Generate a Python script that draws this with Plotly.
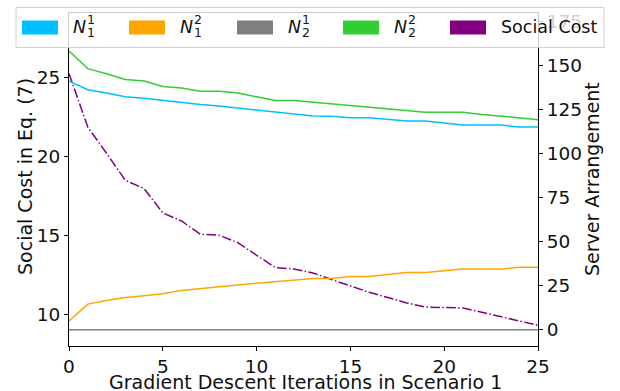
import plotly.graph_objects as go

iterations = list(range(26))
social_cost = [25.25, 21.87, 20.2, 18.49, 17.97, 16.42, 15.91, 15.07, 15.01, 14.54, 13.74,
               12.96, 12.87, 12.62, 12.20, 11.77, 11.39, 11.06, 10.72, 10.46, 10.44, 10.40,
               10.13, 9.85, 9.56, 9.30]
n11 = [141.2, 136.3, 134.4, 132.3, 131.5, 130.2, 129.3, 127.9, 127.0, 125.9, 124.6, 123.6,
       122.6, 121.4, 121.2, 120.4, 120.4, 119.3, 118.5, 118.5, 117.4, 116.2, 116.2, 116.2,
       115.1, 115.1]
n12 = [4.9, 14.5, 16.6, 18.3, 19.3, 20.4, 22.3, 23.5, 24.4, 25.4, 26.3, 27.3, 28.4, 29.1,
       29.1, 30.2, 30.2, 31.4, 32.5, 32.5, 33.5, 34.4, 34.4, 34.4, 35.4, 35.4]
n21 = [0] * 26
n22 = [158.3, 148.3, 145.4, 142.1, 141.2, 138.2, 137.3, 135.4, 135.4, 134.4, 132.3, 130.2,
       130.2, 129.3, 128.3, 127.2, 126.3, 125.4, 124.4, 123.5, 123.5, 123.5, 122.3, 121.4,
       120.2, 119.3]

left_ticks = [10, 15, 20, 25]
right_ticks = [0, 25, 50, 75, 100, 125, 150, 175]
x_ticks = [0, 5, 10, 15, 20, 25]

FONT = "DejaVu Sans"
TICK_SIZE = 18.5
TITLE_SIZE = 19
LEG_SIZE = 17.5
C_BLUE, C_ORANGE, C_GRAY, C_GREEN, C_PURPLE = "#00BFFF", "#FFA500", "#808080", "#32CD32", "#800080"

fig = go.Figure()
fig.add_trace(go.Scatter(x=iterations, y=social_cost, mode="lines", yaxis="y",
                         line=dict(color=C_PURPLE, width=1.5, dash="9.6px,2.4px,1.5px,2.4px"),
                         showlegend=False))
for vals, col in [(n11, C_BLUE), (n12, C_ORANGE), (n21, C_GRAY), (n22, C_GREEN)]:
    fig.add_trace(go.Scatter(x=iterations, y=vals, mode="lines", yaxis="y2",
                             line=dict(color=col, width=1.5), showlegend=False))

axis_common = dict(showgrid=False, zeroline=False, showline=True, linecolor="black", linewidth=1,
                   ticks="outside", ticklen=4, tickwidth=1, tickcolor="black", automargin=False,
                   tickfont=dict(family=FONT, size=TICK_SIZE, color="#111"))

W, H = 620.0, 391.0
pl, pr, pt, pb = 69.0, 538.0, 13.0, 346.0

fig.update_layout(
    width=620, height=391,
    margin=dict(l=int(pl), r=int(W - pr), t=int(pt), b=int(H - pb)),
    paper_bgcolor="white", plot_bgcolor="white",
    font=dict(family=FONT, size=16, color="black"),
    xaxis=dict(range=[0, 25], tickvals=x_ticks, mirror=True, **axis_common),
    yaxis=dict(range=[7.99, 29.09], tickvals=left_ticks, **axis_common),
    yaxis2=dict(range=[-9.3, 179.9], tickvals=right_ticks, overlaying="y", side="right",
                **axis_common),
    showlegend=False,
)

def px_x(x):
    return (x - pl) / (pr - pl)
def px_y(y):
    return (pb - y) / (pb - pt)

annotations = [
    dict(xref="paper", yref="paper", x=px_x(305.5), y=px_y(382), text="Gradient Descent Iterations in Scenario 1",
         showarrow=False, xanchor="center", yanchor="middle",
         font=dict(family=FONT, size=TITLE_SIZE, color="#111")),
    dict(xref="paper", yref="paper", x=px_x(25), y=px_y(177), text="Social Cost in Eq. (7)", textangle=-90,
         showarrow=False, xanchor="center", yanchor="middle",
         font=dict(family=FONT, size=TITLE_SIZE, color="#111")),
    dict(xref="paper", yref="paper", x=px_x(592), y=px_y(179), text="Server Arrangement", textangle=-90,
         showarrow=False, xanchor="center", yanchor="middle",
         font=dict(family=FONT, size=TITLE_SIZE, color="#111")),
]

# legend box (matplotlib-style, semi-transparent)
shapes = [dict(type="rect", xref="paper", yref="paper",
               x0=px_x(16), x1=px_x(604), y0=px_y(47.5), y1=px_y(7.5),
               fillcolor="rgba(255,255,255,0.8)", line=dict(color="#d0d0d0", width=1), layer="above")]
legend_items = [
    (C_BLUE, 22, "1", "1", None),
    (C_ORANGE, 129, "2", "1", None),
    (C_GRAY, 237, "1", "2", None),
    (C_GREEN, 343, "2", "2", None),
    (C_PURPLE, 450, None, None, "Social Cost"),
]
for col, x0, sup, sub, label in legend_items:
    shapes.append(dict(type="rect", xref="paper", yref="paper",
                       x0=px_x(x0), x1=px_x(x0 + 36), y0=px_y(34.5), y1=px_y(20.5),
                       fillcolor=col, line=dict(width=0), layer="above"))
    tx = x0 + 49
    if label:
        annotations.append(dict(xref="paper", yref="paper", x=px_x(tx), y=px_y(27.5),
                                text=label, showarrow=False, xanchor="left", yanchor="middle",
                                font=dict(family=FONT, size=LEG_SIZE, color="#111")))
    else:
        annotations.append(dict(xref="paper", yref="paper", x=px_x(tx), y=px_y(27.5),
                                text="<i>N</i>", showarrow=False, xanchor="left", yanchor="middle",
                                font=dict(family=FONT, size=LEG_SIZE, color="#111")))
        annotations.append(dict(xref="paper", yref="paper", x=px_x(tx + 14), y=px_y(20),
                                text=sup, showarrow=False, xanchor="left", yanchor="middle",
                                font=dict(family=FONT, size=12.5, color="#111")))
        annotations.append(dict(xref="paper", yref="paper", x=px_x(tx + 14), y=px_y(32),
                                text=sub, showarrow=False, xanchor="left", yanchor="middle",
                                font=dict(family=FONT, size=12.5, color="#111")))

fig.update_layout(shapes=shapes, annotations=annotations)
fig.write_html("out.html", config={"displayModeBar": False},
               post_script="document.body.style.margin='0';document.body.style.overflow='hidden';")
